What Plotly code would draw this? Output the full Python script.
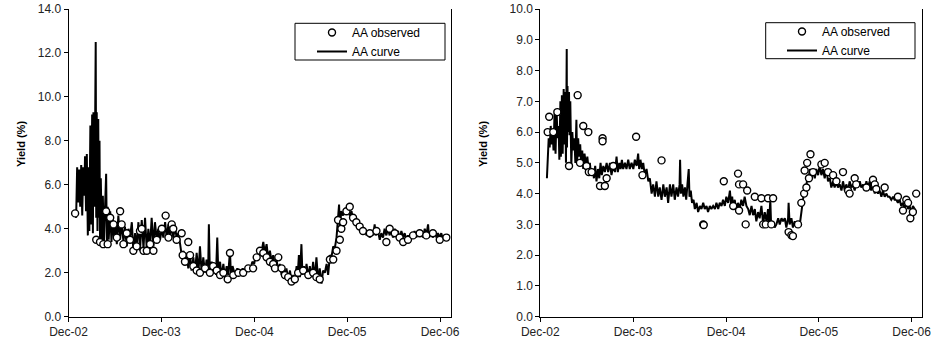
import pandas as pd
import plotly.graph_objects as go

BASE_DATE = "2002-12-01"

TICK_DATES = ["2002-12-01", "2003-12-01", "2004-12-01", "2005-12-01", "2006-12-01"]
TICK_LABELS = ["Dec-02", "Dec-03", "Dec-04", "Dec-05", "Dec-06"]

# ---------------- Left panel: days since 1 Dec 2002 and yield (%) ----------------
LEFT_CURVE_DAYS = [
    26, 30, 34, 38, 42, 46, 50, 54, 58, 62, 65, 69, 72, 76, 80, 82, 86, 89, 93, 96,
    98, 101, 105, 107, 109, 111, 114, 117, 119, 122, 124, 127, 131, 135, 139, 143, 148, 151, 154, 158,
    164, 169, 174, 179, 185, 190, 196, 203, 209, 216, 222, 229, 236, 242, 249, 255, 262, 268, 275, 281,
    288, 295, 301, 308, 314, 321, 327, 334, 340, 347, 353, 360, 367, 373, 380, 386, 393, 399, 406, 412,
    419, 425, 432, 439, 445, 452, 458, 465, 471, 478, 484, 491, 497, 504, 511, 517, 524, 530, 537, 543,
    549, 552, 556, 563, 569, 576, 580, 585, 589, 596, 602, 609, 615, 622, 628, 635, 639, 645, 655, 664,
    674, 685, 694, 703, 713, 723, 730, 737, 744, 750, 757, 766, 772, 779, 785, 792, 799, 805, 812, 818,
    825, 831, 838, 844, 851, 857, 864, 871, 877, 884, 890, 897, 901, 906, 910, 916, 920, 926, 931, 936,
    943, 949, 956, 962, 969, 975, 982, 988, 995, 1001, 1008, 1015, 1021, 1028, 1034, 1041, 1047, 1054, 1060, 1064,
    1067, 1073, 1080, 1087, 1093, 1100, 1106, 1113, 1119, 1126, 1132, 1139, 1145, 1152, 1158, 1165, 1172, 1178, 1185, 1191,
    1198, 1204, 1208, 1217, 1224, 1230, 1237, 1243, 1250, 1256, 1263, 1269, 1276, 1283, 1289, 1296, 1302, 1309, 1316, 1322,
    1329, 1335, 1342, 1348, 1355, 1361, 1368, 1374, 1381, 1388, 1394, 1401, 1407, 1414, 1418, 1427, 1433, 1440, 1447, 1453,
    1460, 1466, 1473, 1479, 1486, 1492, 1499,
]
LEFT_CURVE_YIELD = [
    4.7, 4.5, 6.8, 5.2, 6.7, 5.0, 6.9, 4.6, 6.8, 5.5, 7.3, 4.8, 7.4, 3.7, 6.8, 3.9, 8.7, 4.2, 9.2, 3.8,
    9.3, 5.0, 9.2, 12.5, 4.5, 9.3, 3.9, 9.0, 4.5, 8.0, 3.5, 6.3, 3.4, 5.5, 3.3, 4.9, 6.5, 3.3, 5.0, 3.5,
    4.8, 3.4, 4.5, 3.6, 4.2, 3.3, 4.6, 3.5, 4.3, 3.4, 4.1, 3.2, 4.0, 3.6, 4.3, 3.0, 3.8, 3.2, 4.3, 3.0,
    4.4, 3.1, 4.5, 3.0, 4.0, 3.2, 4.5, 3.2, 4.3, 3.5, 4.0, 3.5, 4.0, 3.6, 4.3, 3.6, 4.2, 3.5, 4.3, 3.6,
    4.1, 3.6, 3.8, 3.3, 2.8, 3.0, 2.4, 2.9, 2.2, 2.8, 2.1, 2.7, 2.0, 2.9, 2.0, 3.2, 1.9, 2.7, 2.0, 2.6,
    1.9, 4.2, 1.9, 2.5, 2.0, 2.3, 1.9, 3.6, 2.0, 2.5, 1.8, 2.4, 1.8, 2.3, 1.9, 3.0, 1.8, 2.3, 1.9, 2.2,
    1.9, 2.2, 2.0, 2.3, 2.1, 2.5, 2.4, 2.8, 2.6, 3.1, 2.8, 3.4, 2.9, 3.3, 2.7, 3.0, 2.5, 2.8, 2.3, 2.6,
    2.1, 2.4, 1.9, 2.3, 1.8, 2.2, 1.7, 2.1, 1.6, 1.9, 1.6, 2.3, 1.8, 2.8, 1.8, 3.3, 1.9, 2.3, 1.9, 2.4,
    1.8, 2.3, 1.8, 2.5, 1.7, 2.7, 1.6, 2.2, 1.5, 2.1, 2.0, 2.4, 1.9, 2.8, 2.7, 3.2, 3.1, 3.6, 4.3, 5.1,
    4.1, 4.8, 4.6, 4.9, 4.8, 5.0, 4.6, 4.8, 4.4, 4.5, 4.2, 4.3, 4.0, 4.1, 3.8, 4.0, 3.7, 3.9, 3.6, 3.9,
    3.7, 4.2, 3.7, 3.9, 3.5, 3.8, 3.6, 4.0, 3.7, 4.0, 3.7, 4.0, 3.6, 4.0, 3.7, 3.9, 3.5, 3.9, 3.6, 3.8,
    3.5, 3.7, 3.5, 3.8, 3.6, 3.9, 3.6, 3.9, 3.7, 3.9, 3.6, 4.0, 3.7, 4.2, 3.6, 3.9, 3.6, 3.9, 3.6, 3.8,
    3.6, 3.8, 3.5, 3.7, 3.6, 3.7, 3.6,
]
LEFT_OBS_DAYS = [
    26, 109, 124, 137, 148, 154, 164, 177, 190, 203, 209, 216, 229, 242, 255, 268, 281, 288, 295, 308,
    321, 334, 347, 367, 382, 393, 406, 412, 425, 445, 449, 458, 471, 478, 491, 504, 517, 537, 556, 569,
    583, 596, 609, 626, 635, 648, 668, 687, 707, 726, 740, 753, 766, 779, 792, 805, 812, 825, 838, 851,
    864, 877, 890, 903, 923, 943, 962, 975, 988, 1028, 1041, 1054, 1060, 1067, 1073, 1080, 1093, 1106, 1119, 1132,
    1145, 1158, 1185, 1211, 1250, 1263, 1283, 1302, 1316, 1335, 1355, 1381, 1407, 1433, 1460, 1486,
]
LEFT_OBS_YIELD = [
    4.7, 3.5, 3.4, 3.3, 4.8, 3.3, 4.5, 4.2, 3.6, 4.8, 4.2, 3.3, 3.8, 3.5, 3.0, 3.2, 3.9, 4.0, 3.0, 3.0,
    3.3, 3.0, 3.5, 4.0, 4.6, 3.6, 4.2, 4.0, 3.5, 3.8, 2.8, 2.5, 3.4, 2.8, 2.3, 2.1, 2.0, 2.2, 2.0, 2.3,
    2.1, 1.9, 2.0, 1.7, 2.9, 1.9, 2.0, 2.0, 2.2, 2.2, 2.7, 3.0, 2.9, 2.7, 2.5, 2.4, 2.2, 2.7, 2.2, 1.9,
    1.8, 1.6, 1.7, 2.0, 2.1, 1.9, 2.0, 1.8, 1.7, 2.6, 2.6, 3.0, 4.4, 3.5, 4.0, 4.3, 4.8, 5.0, 4.5, 4.3,
    4.1, 3.9, 3.8, 3.9, 3.4, 4.0, 3.8, 3.6, 3.4, 3.5, 3.7, 3.8, 3.7, 3.8, 3.5, 3.6,
]

# ---------------- Right panel ----------------
RIGHT_CURVE_DAYS = [
    26, 30, 33, 37, 41, 45, 48, 52, 56, 60, 64, 68, 72, 75, 79, 81, 85, 88, 92, 94,
    98, 101, 104, 105, 107, 110, 113, 115, 118, 122, 126, 130, 134, 138, 142, 145, 149, 153, 157, 161,
    165, 169, 174, 180, 185, 190, 195, 200, 206, 211, 216, 221, 227, 232, 237, 242, 248, 254, 261, 267,
    274, 280, 287, 294, 300, 305, 311, 316, 321, 326, 333, 339, 346, 352, 359, 366, 372, 379, 385, 389,
    394, 400, 405, 411, 418, 425, 431, 438, 444, 451, 457, 464, 470, 477, 484, 490, 497, 503, 510, 516,
    523, 529, 536, 542, 548, 550, 553, 558, 563, 569, 574, 579, 584, 587, 592, 597, 603, 608, 615, 621,
    628, 634, 641, 647, 654, 660, 667, 673, 680, 687, 693, 700, 706, 713, 719, 726, 732, 739, 746, 750,
    755, 759, 765, 772, 778, 785, 791, 798, 804, 811, 818, 824, 831, 837, 844, 850, 857, 863, 870, 877,
    883, 890, 896, 900, 905, 908, 916, 922, 929, 936, 942, 949, 955, 962, 968, 975, 977, 981, 988, 994,
    1001, 1008, 1014, 1021, 1027, 1034, 1040, 1044, 1050, 1055, 1060, 1067, 1073, 1080, 1086, 1093, 1099, 1106, 1112, 1119,
    1126, 1132, 1139, 1145, 1152, 1158, 1165, 1171, 1178, 1185, 1191, 1198, 1204, 1211, 1217, 1224, 1230, 1237, 1243, 1250,
    1257, 1263, 1270, 1276, 1283, 1289, 1296, 1302, 1309, 1316, 1322, 1329, 1335, 1342, 1348, 1355, 1361, 1368, 1374, 1381,
    1388, 1394, 1401, 1407, 1414, 1420, 1427, 1433, 1440, 1447, 1453, 1460, 1466, 1473, 1479,
]
RIGHT_CURVE_YIELD = [
    4.5, 5.2, 5.8, 5.5, 6.2, 5.6, 6.1, 5.4, 6.6, 5.3, 6.7, 5.8, 6.2, 5.1, 7.0, 5.2, 7.2, 5.3, 7.4, 5.6,
    7.3, 5.0, 8.7, 5.5, 7.5, 6.0, 7.3, 5.9, 7.0, 4.9, 6.0, 5.4, 5.8, 5.0, 6.4, 5.0, 5.8, 5.2, 5.6, 4.9,
    5.4, 4.8, 5.3, 4.9, 5.2, 4.8, 5.0, 4.6, 4.8, 4.5, 4.9, 4.4, 4.8, 4.5, 5.0, 4.6, 4.9, 4.7, 5.0, 4.7,
    5.0, 4.6, 4.9, 4.7, 5.2, 4.7, 5.0, 4.8, 5.1, 4.8, 5.0, 4.8, 5.1, 4.8, 5.0, 4.8, 5.1, 4.9, 5.3, 4.8,
    5.1, 4.8, 5.0, 4.6, 4.8, 4.4, 4.5, 4.0, 4.3, 3.9, 4.4, 3.9, 4.2, 3.8, 4.3, 3.9, 4.2, 3.7, 4.3, 3.9,
    4.3, 3.8, 4.2, 3.9, 4.3, 5.1, 4.0, 4.3, 3.9, 4.2, 3.8, 4.3, 4.8, 3.9, 4.1, 3.7, 3.8, 3.5, 3.7, 3.4,
    3.6, 3.5, 3.7, 3.5, 3.6, 3.4, 3.6, 3.5, 3.6, 3.5, 3.7, 3.5, 3.7, 3.6, 3.8, 3.6, 3.9, 3.7, 4.1, 3.7,
    3.9, 3.5, 3.8, 3.4, 3.7, 3.5, 3.8, 3.6, 3.9, 3.6, 3.5, 3.3, 3.6, 3.3, 3.5, 3.1, 3.4, 3.2, 3.6, 3.0,
    3.4, 3.1, 3.5, 3.0, 3.8, 3.0, 3.1, 2.9, 3.0, 3.2, 3.0, 3.2, 3.1, 3.2, 2.9, 3.2, 3.7, 3.0, 3.2, 2.9,
    3.1, 2.9, 3.0, 3.0, 3.4, 3.8, 4.2, 4.0, 4.5, 4.4, 4.8, 4.5, 4.7, 4.5, 4.8, 4.6, 4.9, 4.6, 4.8, 4.5,
    4.8, 4.4, 4.5, 4.2, 4.4, 4.2, 4.4, 4.2, 4.3, 4.1, 4.4, 4.1, 4.3, 4.1, 4.4, 4.2, 4.3, 4.1, 4.4, 4.2,
    4.4, 4.2, 4.3, 4.1, 4.4, 4.2, 4.4, 4.1, 4.3, 4.0, 4.2, 4.0, 4.1, 3.9, 4.1, 3.9, 4.0, 3.9, 3.9, 3.8,
    3.9, 3.8, 3.8, 3.7, 3.8, 3.6, 3.7, 3.5, 3.7, 3.5, 3.6, 3.4, 3.6, 3.5, 3.4,
]
RIGHT_OBS_DAYS = [
    29, 35, 51, 67, 113, 147, 156, 169, 182, 189, 191, 202, 235, 245, 245, 254, 261, 287, 377, 402,
    477, 641, 643, 722, 759, 778, 782, 782, 798, 808, 814, 844, 870, 877, 887, 896, 909, 916, 977, 988,
    994, 1014, 1027, 1038, 1040, 1047, 1050, 1057, 1063, 1073, 1106, 1119, 1132, 1152, 1165, 1191, 1211, 1217, 1237, 1243,
    1283, 1309, 1316, 1322, 1355, 1407, 1427, 1440, 1447, 1456, 1466, 1479,
]
RIGHT_OBS_YIELD = [
    6.0, 6.5, 6.0, 6.65, 4.9, 7.2, 5.0, 6.2, 4.9, 6.0, 4.7, 4.7, 4.25, 5.8, 5.7, 4.25, 4.5, 4.9, 5.85, 4.6,
    5.08, 3.0, 2.98, 4.4, 3.6, 4.65, 4.3, 3.45, 4.3, 3.0, 4.1, 3.9, 3.85, 3.0, 3.0, 3.85, 3.0, 3.85, 2.75, 2.65,
    2.62, 3.0, 3.7, 4.0, 4.75, 4.2, 5.0, 4.5, 5.28, 4.7, 4.95, 5.0, 4.7, 4.6, 4.4, 4.7, 4.1, 4.0, 4.5, 4.3,
    4.2, 4.45, 4.3, 4.15, 4.2, 3.9, 3.45, 3.8, 3.7, 3.2, 3.4, 4.0,
]

SERIES_OBS = "AA observed"
SERIES_CURVE = "AA curve"
Y_TITLE = "Yield (%)"

# ---------------- figure ----------------
W, H = 937, 345
FONT = "Liberation Sans, Arial, sans-serif"


def to_dates(days):
    return pd.Timestamp(BASE_DATE) + pd.to_timedelta(days, unit="D")


def px_x(p):
    return p / W


def px_y(p):
    return 1 - p / H


fig = go.Figure()

panels = [
    dict(cd=LEFT_CURVE_DAYS, cy=LEFT_CURVE_YIELD, od=LEFT_OBS_DAYS, oy=LEFT_OBS_YIELD,
         xa="x", ya="y", leg="legend"),
    dict(cd=RIGHT_CURVE_DAYS, cy=RIGHT_CURVE_YIELD, od=RIGHT_OBS_DAYS, oy=RIGHT_OBS_YIELD,
         xa="x2", ya="y2", leg="legend2"),
]

for p in panels:
    fig.add_trace(go.Scatter(
        x=to_dates(p["cd"]), y=p["cy"], mode="lines", name=SERIES_CURVE,
        line=dict(color="black", width=2), xaxis=p["xa"], yaxis=p["ya"],
        legend=p["leg"], legendrank=2,
    ))
    fig.add_trace(go.Scatter(
        x=to_dates(p["od"]), y=p["oy"], mode="markers", name=SERIES_OBS,
        marker=dict(symbol="circle", size=7, color="white",
                    line=dict(color="black", width=1.4)),
        xaxis=p["xa"], yaxis=p["ya"], legend=p["leg"], legendrank=1,
    ))

x_end = "2007-01-12"
axis_common = dict(
    showgrid=False, zeroline=False, showline=True, linecolor="black", linewidth=1,
    ticks="outside", tickcolor="black", ticklen=4, tickwidth=1, automargin=False,
    tickfont=dict(family=FONT, size=12, color="#222"),
)

fig.update_layout(
    width=W, height=H, margin=dict(l=0, r=0, t=0, b=0, autoexpand=False),
    paper_bgcolor="white", plot_bgcolor="white",
    font=dict(family=FONT, size=12, color="black"),
    xaxis=dict(domain=[px_x(68.5), px_x(450.7)], anchor="y", type="date",
               range=[BASE_DATE, x_end], tickvals=TICK_DATES, ticktext=TICK_LABELS,
               **axis_common),
    yaxis=dict(domain=[px_y(316.7), px_y(9)], anchor="x", range=[0, 14], dtick=2,
               tickformat=".1f", mirror=True, **axis_common),
    xaxis2=dict(domain=[px_x(540.3), px_x(922.3)], anchor="y2", type="date",
                range=[BASE_DATE, x_end], tickvals=TICK_DATES, ticktext=TICK_LABELS,
                **axis_common),
    yaxis2=dict(domain=[px_y(316.7), px_y(9)], anchor="x2", range=[0, 10], dtick=1,
                tickformat=".1f", mirror=True, **axis_common),
    legend=dict(x=px_x(312), y=px_y(18), xanchor="left", yanchor="top",
                bgcolor="rgba(0,0,0,0)", borderwidth=0,
                font=dict(family=FONT, size=12, color="black")),
    legend2=dict(x=px_x(782), y=px_y(17), xanchor="left", yanchor="top",
                 bgcolor="rgba(0,0,0,0)", borderwidth=0,
                 font=dict(family=FONT, size=12, color="black")),
    shapes=[
        dict(type="rect", xref="paper", yref="paper",
             x0=px_x(295), x1=px_x(445), y0=px_y(60), y1=px_y(23.3),
             line=dict(color="black", width=1), fillcolor="white", layer="below"),
        dict(type="rect", xref="paper", yref="paper",
             x0=px_x(765.7), x1=px_x(915), y0=px_y(58.7), y1=px_y(22.7),
             line=dict(color="black", width=1), fillcolor="white", layer="below"),
    ],
    annotations=[
        dict(text="<b>" + Y_TITLE + "</b>", xref="paper", yref="paper",
             x=px_x(13), y=px_y(144), textangle=-90, showarrow=False,
             font=dict(family=FONT, size=11, color="black")),
        dict(text="<b>" + Y_TITLE + "</b>", xref="paper", yref="paper",
             x=px_x(483), y=px_y(144), textangle=-90, showarrow=False,
             font=dict(family=FONT, size=11, color="black")),
    ],
)

fig.write_html(
    "out.html",
    config={"displayModeBar": False},
    post_script="document.body.style.margin='0';document.body.style.overflow='hidden';",
)
